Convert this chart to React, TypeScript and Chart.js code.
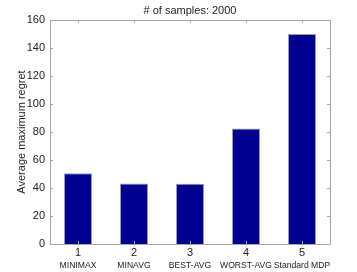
import React, { useEffect, useRef } from "react";
import { Chart, registerables } from "chart.js";

Chart.register(...registerables);

const categories = ["1", "2", "3", "4", "5"];
const methodNames = ["MINIMAX", "MINAVG", "BEST-AVG", "WORST-AVG", "Standard MDP"];
const regretValues = [50.5, 43.3, 43.0, 82.5, 150.0];
const yTicks = [0, 20, 40, 60, 80, 100, 120, 140, 160];
const titleText = "# of samples: 2000";
const yLabelText = "Average maximum regret";

const FONT = "'Liberation Sans', Arial, Helvetica, sans-serif";

const framePlugin = {
  id: "frame",
  afterDraw(chart: any) {
    const { ctx, chartArea } = chart;
    const { left, right, top, bottom } = chartArea;
    const x = chart.scales.x;
    const y = chart.scales.y;
    ctx.save();
    ctx.strokeStyle = "#a6a6a6";
    ctx.lineWidth = 1;
    ctx.beginPath();
    ctx.rect(Math.round(left) + 0.5, Math.round(top) + 0.5, Math.round(right - left), Math.round(bottom - top));
    ctx.stroke();
    const tl = 3;
    ctx.beginPath();
    categories.forEach((_, i) => {
      const px = Math.round(x.getPixelForValue(i)) + 0.5;
      ctx.moveTo(px, bottom);
      ctx.lineTo(px, bottom - tl);
      ctx.moveTo(px, top);
      ctx.lineTo(px, top + tl);
    });
    yTicks.forEach((v) => {
      const py = Math.round(y.getPixelForValue(v)) + 0.5;
      ctx.moveTo(left, py);
      ctx.lineTo(left + tl, py);
      ctx.moveTo(right, py);
      ctx.lineTo(right - tl, py);
    });
    ctx.stroke();
    ctx.fillStyle = "#222";
    ctx.textAlign = "center";
    ctx.textBaseline = "middle";
    ctx.font = `8.6px ${FONT}`;
    methodNames.forEach((n, i) => {
      ctx.fillText(n, x.getPixelForValue(i), 266);
    });
    ctx.font = `11px ${FONT}`;
    ctx.fillText(titleText, (left + right) / 2, 11);
    ctx.translate(22, (top + bottom) / 2);
    ctx.rotate(-Math.PI / 2);
    ctx.fillText(yLabelText, 0, 0);
    ctx.restore();
  },
};

export default function App() {
  const ref = useRef<HTMLCanvasElement>(null);
  useEffect(() => {
    const chart = new Chart(ref.current!, {
      type: "bar",
      data: {
        labels: categories,
        datasets: [
          {
            data: regretValues,
            backgroundColor: "#00008f",
            borderColor: "#9a9aa8",
            borderWidth: 1,
            barPercentage: 0.5,
            categoryPercentage: 1,
          },
        ],
      },
      options: {
        responsive: false,
        animation: false,
        layout: { padding: { top: 20, right: 27, left: 0, bottom: 0 } },
        plugins: { legend: { display: false }, title: { display: false }, tooltip: { enabled: false } },
        scales: {
          x: {
            grid: { display: false, drawTicks: false },
            border: { display: false },
            ticks: {
              color: "#222",
              font: { family: FONT, size: 11 },
              padding: 2,
              maxRotation: 0,
              autoSkip: false,
            },
            afterFit(s: any) {
              s.height = 28;
            },
          },
          y: {
            min: 0,
            max: 160,
            grid: { display: false, drawTicks: false },
            border: { display: false },
            ticks: {
              stepSize: 20,
              color: "#222",
              font: { family: FONT, size: 11 },
              padding: 5,
            },
            afterFit(s: any) {
              s.width = 50;
            },
          },
        },
      },
      plugins: [framePlugin],
    });
    return () => chart.destroy();
  }, []);
  return (
    <div style={{ position: "fixed", left: 0, top: 0, width: 357, height: 272, background: "#fff" }}>
      <canvas ref={ref} width={357} height={272} style={{ width: 357, height: 272 }} />
    </div>
  );
}
